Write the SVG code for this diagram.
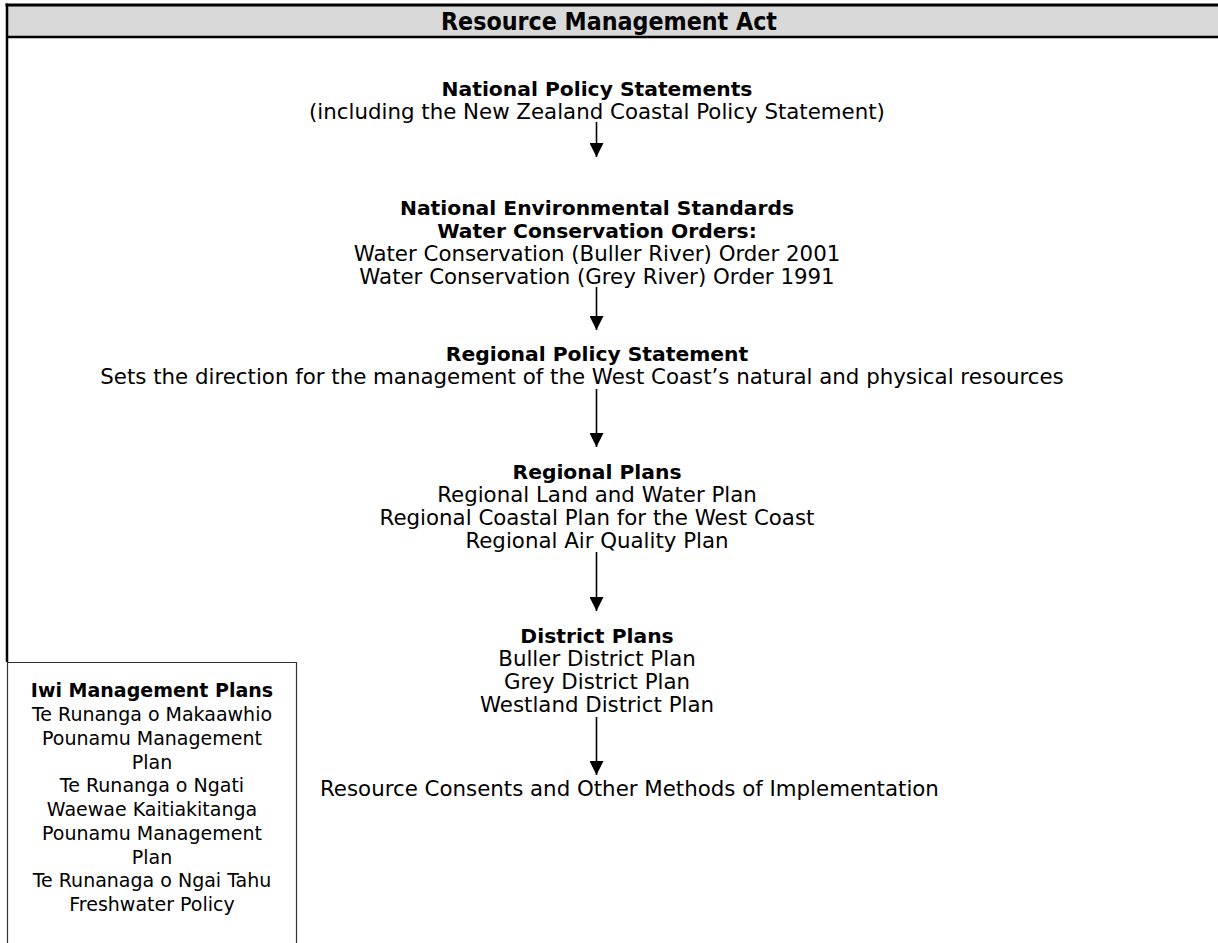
<svg xmlns="http://www.w3.org/2000/svg" width="1218" height="943" viewBox="0 0 1218 943">
<defs>
<style>
.t{font-family:"DejaVu Sans","Liberation Sans",sans-serif;font-size:21.33px;fill:#000;text-anchor:middle}
.b{font-weight:bold;font-size:20.3px}
.s{font-size:19px}
.h{font-family:"DejaVu Sans","Liberation Sans",sans-serif;font-size:24px;font-weight:bold;text-anchor:middle}
.c{stroke:#000;stroke-width:1.6;fill:none}
</style>
<marker id="ah" markerUnits="userSpaceOnUse" markerWidth="14" markerHeight="14" viewBox="0 0 14 14" refX="14" refY="7" orient="auto">
<path d="M0,0 L14,7 L0,14 z" fill="#000"/>
</marker>
</defs>
<rect width="1218" height="943" fill="#fff"/>
<g id="header">
<rect x="7" y="5.5" width="1212" height="31.5" fill="#d9d9d9"/>
<line x1="5.5" y1="5" x2="1218" y2="5" stroke="#000" stroke-width="3"/>
<line x1="7" y1="37" x2="1218" y2="37" stroke="#000" stroke-width="2.5"/>
<line x1="7" y1="3.5" x2="7" y2="662" stroke="#000" stroke-width="2.5"/>
<text class="h" x="609" y="30" textLength="336" lengthAdjust="spacingAndGlyphs">Resource Management Act</text>
</g>
<g id="nps">
<text class="t b" x="597" y="96">National Policy Statements</text>
<text class="t" x="597" y="119">(including the New Zealand Coastal Policy Statement)</text>
</g>
<g id="nes">
<text class="t b" x="597" y="215">National Environmental Standards</text>
<text class="t b" x="597" y="238">Water Conservation Orders:</text>
<text class="t" x="597" y="261">Water Conservation (Buller River) Order 2001</text>
<text class="t" x="597" y="284">Water Conservation (Grey River) Order 1991</text>
</g>
<g id="rps">
<text class="t b" x="597" y="361">Regional Policy Statement</text>
<text class="t" x="582" y="384">Sets the direction for the management of the West Coast’s natural and physical resources</text>
</g>
<g id="rp">
<text class="t b" x="597" y="479">Regional Plans</text>
<text class="t" x="597" y="502">Regional Land and Water Plan</text>
<text class="t" x="597" y="525">Regional Coastal Plan for the West Coast</text>
<text class="t" x="597" y="548">Regional Air Quality Plan</text>
</g>
<g id="dp">
<text class="t b" x="597" y="643">District Plans</text>
<text class="t" x="597" y="666">Buller District Plan</text>
<text class="t" x="597" y="689">Grey District Plan</text>
<text class="t" x="597" y="712">Westland District Plan</text>
</g>
<g id="rc">
<text class="t" x="320" y="796" style="text-anchor:start">Resource Consents and Other Methods of Implementation</text>
</g>
<g id="iwi">
<path d="M7.5,943 V662.5 H296.5 V943" fill="none" stroke="#333" stroke-width="1.2"/>
<text class="t b s" x="152" y="697">Iwi Management Plans</text>
<text class="t s" x="152" y="721">Te Runanga o Makaawhio</text>
<text class="t s" x="152" y="745">Pounamu Management</text>
<text class="t s" x="152" y="769">Plan</text>
<text class="t s" x="152" y="792">Te Runanga o Ngati</text>
<text class="t s" x="152" y="816">Waewae Kaitiakitanga</text>
<text class="t s" x="152" y="840">Pounamu Management</text>
<text class="t s" x="152" y="864">Plan</text>
<text class="t s" x="152" y="887">Te Runanaga o Ngai Tahu</text>
<text class="t s" x="152" y="911">Freshwater Policy</text>
</g>
<g id="connectors">
<line class="c" x1="596.5" y1="122" x2="596.5" y2="157" marker-end="url(#ah)"/>
<line class="c" x1="596.5" y1="287" x2="596.5" y2="330" marker-end="url(#ah)"/>
<line class="c" x1="596.5" y1="389" x2="596.5" y2="447" marker-end="url(#ah)"/>
<line class="c" x1="596.5" y1="552" x2="596.5" y2="611" marker-end="url(#ah)"/>
<line class="c" x1="596.5" y1="717" x2="596.5" y2="775" marker-end="url(#ah)"/>
</g>
</svg>
